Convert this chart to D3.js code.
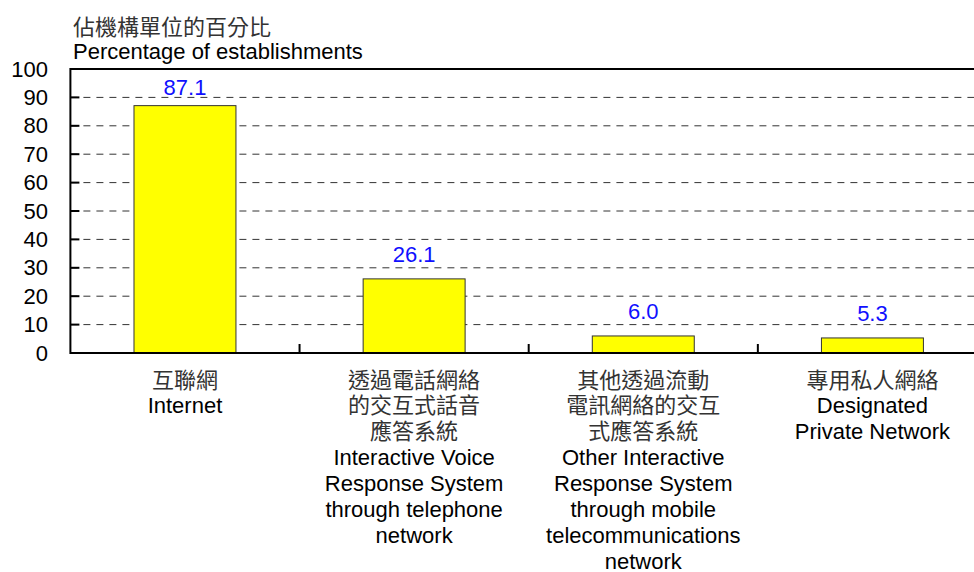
<!DOCTYPE html>
<html>
<head>
<meta charset="utf-8">
<script src="https://cdn.jsdelivr.net/npm/d3@7"></script>
<style>
  html, body { margin: 0; padding: 0; background: #fff; }
  svg { display: block; }
  text { font-family: "Liberation Sans", Arial, "Noto Sans CJK TC", sans-serif; }
  .cjk { font-family: "Noto Sans CJK TC", "Liberation Sans", sans-serif; }
</style>
</head>
<body>
<svg id="chart" width="974" height="572"></svg>
<script>
// ---- data ----
const categories = ["Internet", "IVR telephone", "Other IVR mobile", "Designated Private Network"];
const values = [87.1, 26.1, 6.0, 5.3];
const labelsZh = [
  ["互聯網"],
  ["透過電話網絡", "的交互式話音", "應答系統"],
  ["其他透過流動", "電訊網絡的交互", "式應答系統"],
  ["專用私人網絡"]
];
const labelsEn = [
  ["Internet"],
  ["Interactive Voice", "Response System", "through telephone", "network"],
  ["Other Interactive", "Response System", "through mobile", "telecommunications", "network"],
  ["Designated", "Private Network"]
];
const yTicks = [0, 10, 20, 30, 40, 50, 60, 70, 80, 90, 100];
const titleZh = "佔機構單位的百分比";
const titleEn = "Percentage of establishments";

(function () {
// ---- layout ----
const svg = d3.select("#chart");
const pL = 70.4, pR = 987, pT = 69, pB = 353;
const fs = 22;

const x = d3.scaleBand().domain(categories).range([pL, pR]).paddingInner(0).paddingOuter(0);
const y = d3.scaleLinear().domain([0, 100]).range([pB, pT]);
const barW = x.bandwidth() * 0.445;

// titles
svg.append("text").attr("class", "cjk").attr("x", 73).attr("y", 35)
  .attr("font-size", fs).attr("fill", "#333").text(titleZh);
svg.append("text").attr("x", 73).attr("y", 59)
  .attr("font-size", fs).attr("fill", "#000").text(titleEn);

// gridlines
svg.append("g").selectAll("line").data(yTicks.filter(t => t > 0 && t < 100)).join("line")
  .attr("x1", pL).attr("x2", 974)
  .attr("y1", d => y(d)).attr("y2", d => y(d))
  .attr("stroke", "#333").attr("stroke-width", 1).attr("stroke-dasharray", "7,6");

// y ticks (inward)
svg.append("g").selectAll("line").data(yTicks).join("line")
  .attr("x1", pL).attr("x2", pL + 9)
  .attr("y1", d => y(d)).attr("y2", d => y(d))
  .attr("stroke", "#000").attr("stroke-width", 2);

// y tick labels
svg.append("g").selectAll("text").data(yTicks).join("text")
  .attr("x", 48).attr("y", d => y(d) + 7.5)
  .attr("text-anchor", "end").attr("font-size", fs).attr("fill", "#000")
  .text(d => d);

// bars
svg.append("g").selectAll("rect").data(values).join("rect")
  .attr("x", (d, i) => x(categories[i]) + x.bandwidth() / 2 - barW / 2)
  .attr("width", barW)
  .attr("y", d => y(d))
  .attr("height", d => y(0) - y(d))
  .attr("fill", "#ffff00").attr("stroke", "#333").attr("stroke-width", 1);

// value labels
svg.append("g").selectAll("text").data(values).join("text")
  .attr("x", (d, i) => x(categories[i]) + x.bandwidth() / 2)
  .attr("y", d => Math.max(y(d) - 17, 95))
  .attr("text-anchor", "middle").attr("font-size", fs).attr("fill", "#1010ff")
  .text(d => d.toFixed(1));

// frame: top line, y axis, x axis
svg.append("line").attr("x1", pL).attr("x2", 974).attr("y1", pT).attr("y2", pT)
  .attr("stroke", "#000").attr("stroke-width", 2);
svg.append("line").attr("x1", pL).attr("x2", pL).attr("y1", pT - 1).attr("y2", pB + 1)
  .attr("stroke", "#000").attr("stroke-width", 2);
svg.append("line").attr("x1", pL).attr("x2", 974).attr("y1", pB).attr("y2", pB)
  .attr("stroke", "#000").attr("stroke-width", 2);

// x ticks at category boundaries (inward)
svg.append("g").selectAll("line").data(categories.slice(1)).join("line")
  .attr("x1", d => x(d)).attr("x2", d => x(d))
  .attr("y1", pB).attr("y2", pB - 9)
  .attr("stroke", "#000").attr("stroke-width", 2);

// category labels
const lineH = 25.9, firstBase = 387.5;
categories.forEach((c, i) => {
  const cx = x(c) + x.bandwidth() / 2;
  const g = svg.append("g");
  let k = 0;
  labelsZh[i].forEach(t => {
    g.append("text").attr("class", "cjk").attr("x", cx).attr("y", firstBase + lineH * k++)
      .attr("text-anchor", "middle").attr("font-size", fs).attr("fill", "#333").text(t);
  });
  labelsEn[i].forEach(t => {
    g.append("text").attr("x", cx).attr("y", firstBase + lineH * k++)
      .attr("text-anchor", "middle").attr("font-size", fs).attr("fill", "#000").text(t);
  });
});
})();
</script>
</body>
</html>
